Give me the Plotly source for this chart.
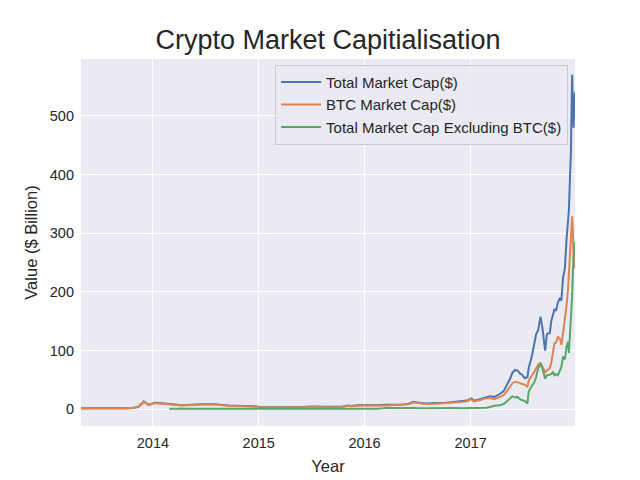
import plotly.graph_objects as go

dates = [
    # 2013
    "2013-04-28", "2013-06-01", "2013-07-05", "2013-08-01", "2013-09-01", "2013-10-01", "2013-10-25",
    "2013-11-06", "2013-11-14", "2013-11-19", "2013-11-23", "2013-11-30", "2013-12-07", "2013-12-18", "2013-12-26",
    # 2014
    "2014-01-06", "2014-01-20", "2014-02-05", "2014-02-26", "2014-03-10", "2014-04-10", "2014-04-25", "2014-05-12",
    "2014-06-03", "2014-07-01", "2014-08-01", "2014-08-20", "2014-09-20", "2014-10-15", "2014-11-15", "2014-12-15",
    # 2015
    "2015-01-14", "2015-02-15", "2015-03-10", "2015-04-15", "2015-06-01", "2015-07-10", "2015-08-20", "2015-09-15",
    "2015-10-15", "2015-11-04", "2015-11-15", "2015-12-15",
    # 2016
    "2016-01-15", "2016-02-15", "2016-03-15", "2016-04-15", "2016-05-15", "2016-06-01", "2016-06-17", "2016-07-01",
    "2016-08-01", "2016-09-01", "2016-10-01", "2016-11-01", "2016-12-01", "2016-12-20",
    # 2017
    "2017-01-04", "2017-01-12", "2017-02-01", "2017-02-25", "2017-03-09", "2017-03-24", "2017-04-12", "2017-04-25",
    "2017-05-05", "2017-05-17", "2017-05-25", "2017-06-03", "2017-06-12", "2017-06-20", "2017-06-27", "2017-07-07",
    "2017-07-16", "2017-07-20", "2017-07-31", "2017-08-08", "2017-08-15", "2017-08-22", "2017-08-30", "2017-09-05",
    "2017-09-15", "2017-09-21", "2017-10-01", "2017-10-06", "2017-10-12", "2017-10-17", "2017-10-23", "2017-10-29",
    "2017-11-05", "2017-11-10", "2017-11-16", "2017-11-22", "2017-11-28", "2017-12-03", "2017-12-06", "2017-12-10",
    "2017-12-13", "2017-12-17", "2017-12-20", "2017-12-22", "2017-12-25", "2017-12-27",
]

total_cap = [
    1.6, 1.4, 1.0, 1.2, 1.6, 1.6, 2.3, 3.1, 4.7, 8.4, 8.9, 13.5, 11.0, 7.4, 8.9,
    11.0, 10.5, 9.5, 8.1, 8.6, 7.0, 7.5, 8.0, 9.0, 9.0, 8.5, 7.4, 6.4, 5.9, 5.9, 5.2,
    3.3, 3.7, 4.4, 3.7, 3.8, 4.6, 4.1, 3.9, 4.2, 6.4, 5.5, 7.1,
    6.6, 7.0, 7.6, 7.8, 8.1, 9.5, 12.6, 11.6, 9.8, 10.5, 10.8, 12.4, 13.4, 14.8,
    18.7, 14.5, 17, 20.5, 22, 21, 26, 31, 40, 52, 62, 67, 66, 61, 59, 53,
    55, 70, 90, 110, 128, 135, 158, 141, 100, 128, 130, 150, 161, 170, 169, 182,
    190, 185, 225, 240, 290, 330, 340, 400, 440, 570, 530, 480, 525, 540,
]

btc_cap = [
    1.5, 1.3, 0.9, 1.1, 1.5, 1.5, 2.2, 3.0, 4.5, 8.0, 8.5, 13.0, 10.5, 7.0, 8.5,
    10.5, 10.0, 9.0, 7.5, 8.0, 6.5, 7.0, 7.5, 8.5, 8.5, 8.0, 7.0, 6.0, 5.5, 5.5, 4.8,
    3.0, 3.4, 4.0, 3.3, 3.4, 4.2, 3.5, 3.5, 3.9, 6.0, 5.0, 6.6,
    6.0, 6.3, 6.5, 6.9, 7.2, 8.5, 11.5, 10.8, 9.0, 9.5, 10.0, 11.5, 12.5, 13.8,
    17.5, 13.5, 15.5, 19, 19, 17, 21, 24, 30, 38, 44, 47, 46, 45, 43, 42,
    38, 48, 58, 63, 70, 76, 79, 72, 63, 66, 70, 79, 100, 112, 114, 123,
    120, 110, 130, 150, 178, 205, 235, 270, 285, 329, 300, 245, 262, 240,
]

alt_cap = [
    None, None, None, None, None, None, None, None, None, None, None, None, None, None, None,
    None, None, None, 0.9, 0.9, 0.7, 0.8, 0.8, 0.8, 0.8, 0.7, 0.6, 0.6, 0.6, 0.5, 0.5,
    0.5, 0.5, 0.6, 0.6, 0.6, 0.6, 0.8, 0.6, 0.5, 0.6, 0.7, 0.7,
    0.8, 1.0, 2.1, 1.8, 1.8, 2.0, 2.7, 1.8, 1.8, 2.2, 1.8, 2.0, 1.8, 1.9,
    1.5, 1.5, 1.8, 2.5, 4, 6, 7, 9, 13, 18, 22, 20, 21, 17, 16, 14,
    10, 30, 40, 45, 55, 70, 78, 70, 52, 58, 59, 60, 63, 58, 60, 58,
    66, 72, 90, 85, 107, 115, 96, 130, 150, 192, 240, 250, 270, 285,
]

series_names = ["Total Market Cap($)", "BTC Market Cap($)", "Total Market Cap Excluding BTC($)"]
y_ticks = [0, 100, 200, 300, 400, 500]
x_ticks = ["2014-01-01", "2015-01-01", "2016-01-01", "2017-01-01"]
x_tick_text = ["2014", "2015", "2016", "2017"]

colors = ["#4C72B0", "#DD8452", "#55A868"]
FONT = "Liberation Sans, Arial, sans-serif"
TXT = "#262626"

fig = go.Figure()
for name, vals, c in zip(series_names, [total_cap, btc_cap, alt_cap], colors):
    fig.add_trace(go.Scatter(x=dates, y=vals, mode="lines", name=name,
                             line=dict(color=c, width=2), connectgaps=False))

fig.update_layout(
    width=640, height=480,
    margin=dict(l=73, r=73, t=51, b=62),
    paper_bgcolor="white", plot_bgcolor="#EAEAF2",
    font=dict(family=FONT, color=TXT, size=14.5),
    title=dict(text="Crypto Market Capitialisation", x=0.5, xref="paper",
               y=1 - 32 / 480, yref="container", yanchor="middle",
               font=dict(size=27, color=TXT, family=FONT)),
    showlegend=True,
    legend=dict(x=0.986, xanchor="right", y=0.984, yanchor="top",
                bgcolor="rgba(234,234,242,0.8)", bordercolor="#CCCCCC", borderwidth=1,
                font=dict(size=15, color=TXT), tracegroupgap=0, itemwidth=40),
)
fig.update_xaxes(range=["2013-04-28", "2017-12-27"], tickvals=x_ticks, ticktext=x_tick_text,
                 showgrid=True, gridcolor="white", gridwidth=1.3, zeroline=False,
                 showline=False, ticks="", ticklabelstandoff=6,
                 title=dict(text="Year", font=dict(size=16.5, color=TXT), standoff=10))
fig.update_yaxes(range=[-28.5, 597], tickvals=y_ticks,
                 showgrid=True, gridcolor="white", gridwidth=1.3, zeroline=False,
                 showline=False, ticks="", ticklabelstandoff=6,
                 title=dict(text="Value ($ Billion)", font=dict(size=16.5, color=TXT), standoff=8))

fig.write_html("out.html")
